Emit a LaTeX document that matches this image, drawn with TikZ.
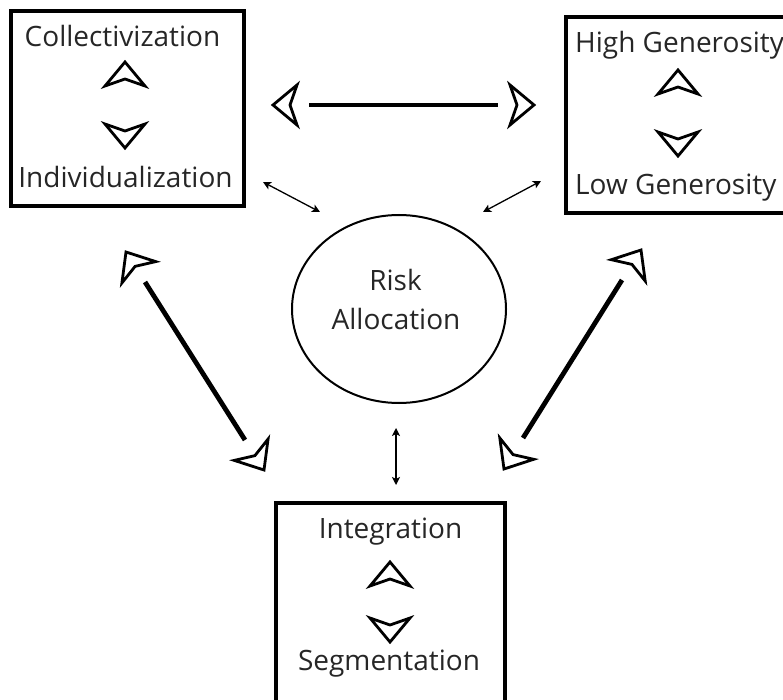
\documentclass[tikz,border=0pt]{standalone}
\usepackage{fontspec}
\setmainfont{Open Sans}
\usetikzlibrary{arrows.meta,shapes.geometric}

% Open chevron used both as connector head and as the up/down marks in boxes
\tikzset{
  chev/.pic={\draw[line width=2.8pt,line join=miter,fill=white]
     (0,0) -- (-24,20) -- (-17,0) -- (-24,-20) -- cycle;},
  box/.style={draw,line width=3.2pt,minimum width=#1},
  lab/.style={font=\fontsize{28}{33}\selectfont,text=black!85,inner sep=0pt,anchor=base},
  thickline/.style={line width=4.8pt},
  thinarrow/.style={line width=1.3pt,{Stealth[length=8pt,width=8pt,inset=2pt]}-{Stealth[length=8pt,width=8pt,inset=2pt]}},
}

\begin{document}
\begin{tikzpicture}[x=1pt,y=-1pt]
\useasboundingbox (0,0) rectangle (783,700);

% boxes
\node[box=233pt,minimum height=195pt] (b1) at (127.5,108.5) {};
\node[box=240pt,minimum height=196pt] (b2) at (686,115) {};
\node[box=229pt,minimum height=217pt] (b3) at (390.5,611.5) {};

% central ellipse
\node[draw,ellipse,line width=2pt,minimum width=214pt,minimum height=188pt,inner sep=0pt] (risk) at (399,309) {};

% labels
\node[lab] (t1a) at (122.5,47) {Collectivization};
\node[lab] (t1b) at (125.5,188) {Individualization};
\node[lab,anchor=base west] (t2a) at (575,53) {High Generosity};
\node[lab,anchor=base west] (t2b) at (575,195) {Low Generosity};
\node[lab] (t3a) at (390.5,538) {Integration};
\node[lab] (t3b) at (389,670) {Segmentation};
\node[lab] (r1) at (395.5,290) {Risk};
\node[lab] (r2) at (396,329) {Allocation};

% up/down marks inside the boxes
\pic[rotate=90] at (125,62) {chev};
\pic[rotate=-90] at (125,148) {chev};
\pic[rotate=90] at (678,70) {chev};
\pic[rotate=-90] at (678,156) {chev};
\pic[rotate=90] at (390,562) {chev};
\pic[rotate=-90] at (390,642) {chev};

% thick links between the boxes
\coordinate (h1) at (309,105);
\coordinate (h2) at (498,105);
\draw[thickline] (h1) -- (h2);
\pic[rotate=180] at (273,105) {chev};
\pic at (534,105) {chev};

\coordinate (l1) at (145,282);
\coordinate (l2) at (245,440);
\draw[thickline] (l1) -- (l2);
\pic[rotate=122.3] at (126,252) {chev};
\pic[rotate=-57.7] at (264,470) {chev};

\coordinate (m1) at (622,280);
\coordinate (m2) at (523,438);
\draw[thickline] (m1) -- (m2);
\pic[rotate=57.9] at (641,250) {chev};
\pic[rotate=-122.1] at (504,469) {chev};

% thin links to the ellipse
\coordinate (a1) at (263,182);
\coordinate (a2) at (320,212);
\draw[thinarrow] (a1) -- (a2);
\coordinate (c1) at (483,212);
\coordinate (c2) at (541,181);
\draw[thinarrow] (c1) -- (c2);
\coordinate (v1) at (396,428);
\coordinate (v2) at (396,485);
\draw[thinarrow] (v1) -- (v2);
\end{tikzpicture}
\end{document}
